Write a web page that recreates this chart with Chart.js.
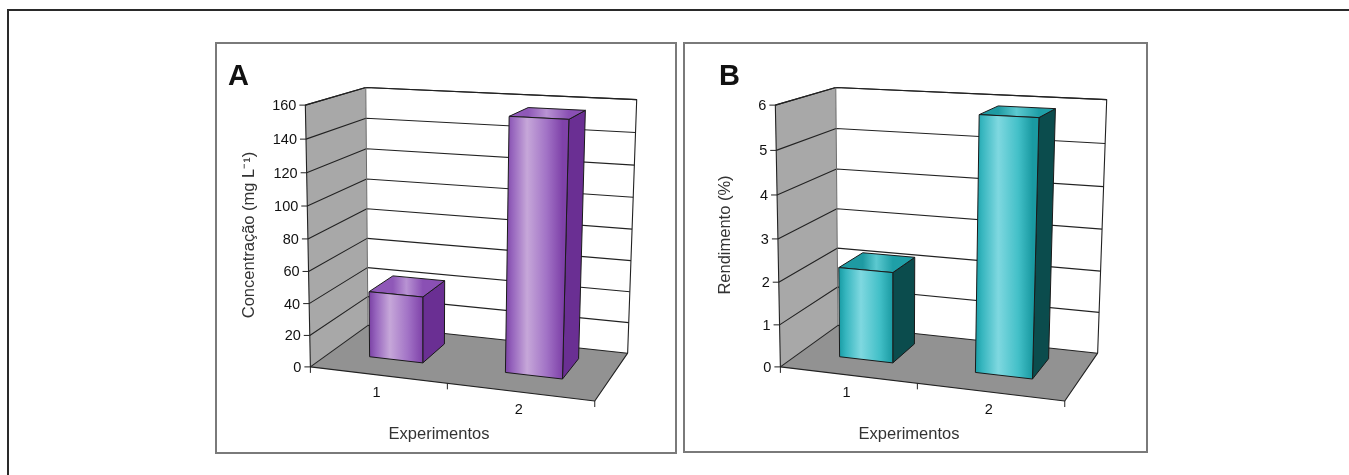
<!DOCTYPE html>
<html>
<head>
<meta charset="utf-8">
<script src="https://cdn.jsdelivr.net/npm/chart.js@4.4.1/dist/chart.umd.min.js"></script>
<style>
  html, body { margin: 0; padding: 0; background: #fff; }
  body { width: 1349px; height: 475px; position: relative; overflow: hidden; }
  .sheet { position: absolute; left: 7px; top: 9px; width: 1500px; height: 600px; border: 2px solid #2a2a2a; }
  .panel { position: absolute; border: 2px solid #7a7a7a; box-sizing: border-box; }
  canvas { position: absolute; top: 43px; }
</style>
</head>
<body>
<div class="sheet"></div>
<div class="panel" style="left:215px; top:42px; width:462px; height:412px;"></div>
<div class="panel" style="left:683px; top:42px; width:465px; height:411px;"></div>
<canvas id="chartA" width="460" height="410" style="left:216px;"></canvas>
<canvas id="chartB" width="460" height="410" style="left:686px;"></canvas>

<script>
// ---- data ----
const categories = ['1', '2'];
const concentracao = [42, 155];      // mg L-1
const rendimento = [2.15, 5.85];     // %
const concAxis = { min: 0, max: 160, step: 20 };
const rendAxis = { min: 0, max: 6, step: 1 };

// ---- 3D box: anchor points of the plot box [u, v, w, px, py] in canvas pixels ----
// u runs along the category axis, v up the value axis, w from the front to the back wall.
const boxAnchors = [
  [0, 0, 0, 96, 321.5],
  [0, 1, 0, 88, 63],
  [0, 0, 1, 151, 285.5],
  [0, 1, 1, 150.7, 43.7],
  [1, 0, 1, 411.5, 307.5],
  [1, 1, 1, 421, 58],
  [1, 0, 0, 379, 360.5],
  [0.5, 0, 0, 230.7, 341],
  [0, 0.5, 0, 92, 194.5],
  [1, 0.5, 1, 416, 185]
];
const barDepth = [0.33, 0.77];

// Solve a 3x4 perspective camera (DLT, least squares) from the anchors.
function solveCamera(anchors) {
  const cx = 250, cy = 200, s = 200;
  const rows = [], rhs = [];
  for (const [X, Y, Z, px, py] of anchors) {
    const x = (px - cx) / s, y = (py - cy) / s;
    rows.push([X, Y, Z, 1, 0, 0, 0, 0, -x * X, -x * Y, -x * Z]); rhs.push(x);
    rows.push([0, 0, 0, 0, X, Y, Z, 1, -y * X, -y * Y, -y * Z]); rhs.push(y);
  }
  const n = 11;
  const M = Array.from({ length: n }, () => new Array(n + 1).fill(0));
  rows.forEach((r, k) => {
    for (let i = 0; i < n; i++) {
      for (let j = 0; j < n; j++) M[i][j] += r[i] * r[j];
      M[i][n] += r[i] * rhs[k];
    }
  });
  for (let c = 0; c < n; c++) {
    let p = c;
    for (let r = c + 1; r < n; r++) if (Math.abs(M[r][c]) > Math.abs(M[p][c])) p = r;
    [M[c], M[p]] = [M[p], M[c]];
    for (let r = 0; r < n; r++) {
      if (r === c) continue;
      const f = M[r][c] / M[c][c];
      for (let k = c; k <= n; k++) M[r][k] -= f * M[c][k];
    }
  }
  const q = M.map((row, i) => row[n] / row[i]);
  return (X, Y, Z) => {
    const d = q[8] * X + q[9] * Y + q[10] * Z + 1;
    return [cx + s * (q[0] * X + q[1] * Y + q[2] * Z + q[3]) / d,
            cy + s * (q[4] * X + q[5] * Y + q[6] * Z + q[7]) / d];
  };
}
const project = solveCamera(boxAnchors);

const FONT = '"Liberation Sans", Arial, sans-serif';

function quad(ctx, pts, fill, stroke) {
  ctx.beginPath();
  ctx.moveTo(pts[0][0], pts[0][1]);
  for (let i = 1; i < pts.length; i++) ctx.lineTo(pts[i][0], pts[i][1]);
  ctx.closePath();
  if (fill) { ctx.fillStyle = fill; ctx.fill(); }
  if (stroke) { ctx.strokeStyle = stroke; ctx.lineWidth = 1; ctx.stroke(); }
}
function path(ctx, pts, stroke, width) {
  ctx.beginPath();
  ctx.moveTo(pts[0][0], pts[0][1]);
  for (let i = 1; i < pts.length; i++) ctx.lineTo(pts[i][0], pts[i][1]);
  ctx.strokeStyle = stroke; ctx.lineWidth = width || 1; ctx.stroke();
}

// Draws walls, floor, grid, axes and the 3D columns from the chart's own scales.
const box3d = {
  id: 'box3d',
  beforeDatasetsDraw(chart, args, o) {
    const ctx = chart.ctx, xs = chart.scales.x, ys = chart.scales.y;
    const V = val => (ys.getPixelForValue(ys.min) - ys.getPixelForValue(val)) / (ys.bottom - ys.top);
    const U = px => (px - xs.left) / (xs.right - xs.left);
    const P = project;
    ctx.save();
    ctx.lineJoin = 'round';

    // walls and floor
    quad(ctx, [P(0, 0, 0), P(0, 1, 0), P(0, 1, 1), P(0, 0, 1)], '#a8a8a8');
    quad(ctx, [P(0, 0, 1), P(0, 1, 1), P(1, 1, 1), P(1, 0, 1)], '#ffffff');
    quad(ctx, [P(0, 0, 0), P(1, 0, 0), P(1, 0, 1), P(0, 0, 1)], '#929292');

    // gridlines over the left and back walls
    const ticks = ys.ticks.length ? ys.ticks.map(t => t.value) : [];
    ticks.forEach(t => {
      const v = V(t);
      path(ctx, [P(0, v, 0), P(0, v, 1), P(1, v, 1)], '#222', 1.1);
    });
    // box outline
    path(ctx, [P(0, 0, 0), P(0, 1, 0), P(0, 1, 1), P(1, 1, 1), P(1, 0, 1)], '#222', 1.1);
    path(ctx, [P(0, 1, 1), P(0, 0, 1)], '#6a6a6a', 1);
    path(ctx, [P(0, 0, 0), P(1, 0, 0), P(1, 0, 1)], '#222', 1.1);

    // value axis ticks and labels
    ctx.font = '14.5px ' + FONT;
    ctx.fillStyle = '#111';
    ctx.textAlign = 'right';
    ctx.textBaseline = 'middle';
    ticks.forEach(t => {
      const p = P(0, V(t), 0);
      path(ctx, [[p[0] - 6, p[1]], p], '#222', 1);
      ctx.fillText(String(t), p[0] - 9, p[1] + 1);
    });

    // category axis ticks and labels
    const nCat = chart.data.labels.length;
    for (let i = 0; i <= nCat; i++) {
      const p = P(i / nCat, 0, 0);
      path(ctx, [p, [p[0], p[1] + 6]], '#222', 1);
    }
    ctx.textAlign = 'center';
    chart.data.labels.forEach((lab, i) => {
      const p = P(U(xs.getPixelForValue(i)), 0, 0);
      ctx.fillText(lab, p[0] - 1, p[1] + 18);
    });

    // axis titles and panel letter
    ctx.fillStyle = '#333';
    ctx.font = '16.5px ' + FONT;
    ctx.fillText(o.xTitle, 223, 391);
    ctx.save();
    ctx.translate(o.yTitleX, 192);
    ctx.rotate(-Math.PI / 2);
    ctx.fillText(o.yTitle, 0, 0);
    ctx.restore();
    ctx.fillStyle = '#111';
    ctx.font = 'bold 29px ' + FONT;
    ctx.textAlign = 'left';
    ctx.textBaseline = 'alphabetic';
    ctx.fillText(o.letter, o.letterX, 42);

    // columns
    const meta = chart.getDatasetMeta(0);
    const [w0, w1] = barDepth;
    meta.data.forEach(el => {
      const uc = U(el.x);
      const hw = el.width / 2 / (xs.right - xs.left);
      const u0 = uc - hw, u1 = uc + hw;
      const v = (el.base - el.y) / (ys.bottom - ys.top);
      const c = o.colors;
      // right side
      quad(ctx, [P(u1, 0, w0), P(u1, v, w0), P(u1, v, w1), P(u1, 0, w1)], c.side, '#1a1a1a');
      // top
      const tl = P(u0, v, w1), tr = P(u1, v, w0);
      const gt = ctx.createLinearGradient(tl[0], 0, tr[0], 0);
      c.top.forEach(([s, col]) => gt.addColorStop(s, col));
      quad(ctx, [P(u0, v, w0), P(u1, v, w0), P(u1, v, w1), P(u0, v, w1)], gt, '#1a1a1a');
      // front
      const fl = P(u0, 0, w0), fr = P(u1, 0, w0);
      const gf = ctx.createLinearGradient(fl[0], 0, fr[0], 0);
      c.front.forEach(([s, col]) => gf.addColorStop(s, col));
      quad(ctx, [P(u0, 0, w0), P(u1, 0, w0), P(u1, v, w0), P(u0, v, w0)], gf, '#1a1a1a');
    });
    ctx.restore();
    return false;
  }
};

function makeChart(id, values, axis, opts) {
  return new Chart(document.getElementById(id), {
    type: 'bar',
    data: {
      labels: categories,
      datasets: [{ data: values, categoryPercentage: 1, barPercentage: 0.4 }]
    },
    options: {
      responsive: false,
      animation: false,
      events: [],
      layout: { padding: 0 },
      plugins: { legend: { display: false }, tooltip: { enabled: false }, box3d: opts },
      scales: {
        x: { type: 'category', display: false, offset: true },
        y: { type: 'linear', display: false, min: axis.min, max: axis.max, ticks: { stepSize: axis.step } }
      }
    },
    plugins: [box3d]
  });
}

makeChart('chartA', concentracao, concAxis, {
  letter: 'A', letterX: 12,
  yTitle: 'Concentração (mg L\u207B\u00B9)', yTitleX: 33,
  xTitle: 'Experimentos',
  colors: {
    side: '#6a2f93',
    top: [[0, '#8f58b8'], [0.45, '#b893d3'], [1, '#8a50b4']],
    front: [[0, '#7c43a6'], [0.12, '#9664bd'], [0.38, '#c6a7d9'], [0.72, '#a273c6'], [1, '#7f42a9']]
  }
});
makeChart('chartB', rendimento, rendAxis, {
  letter: 'B', letterX: 33,
  yTitle: 'Rendimento (%)', yTitleX: 39,
  xTitle: 'Experimentos',
  colors: {
    side: '#0b4c4d',
    top: [[0, '#1e9aa2'], [0.45, '#5cc9d0'], [1, '#1f9fa7']],
    front: [[0, '#1a9ea7'], [0.12, '#37b6bf'], [0.4, '#7fd8e0'], [0.75, '#43c0c8'], [1, '#1a9aa2']]
  }
});
</script>
</body>
</html>
